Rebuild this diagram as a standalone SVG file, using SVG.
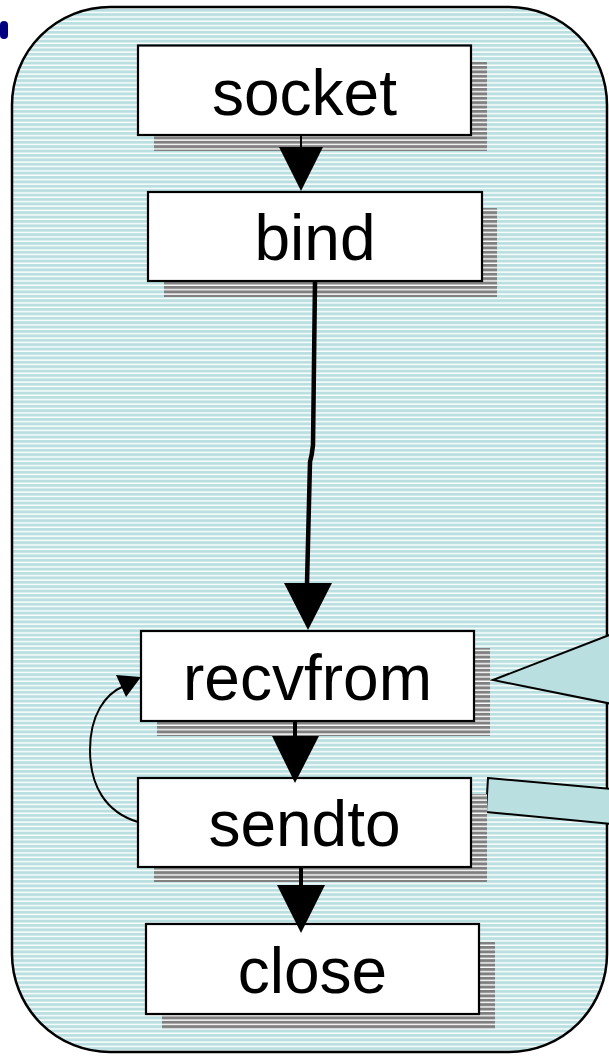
<svg xmlns="http://www.w3.org/2000/svg" width="609" height="1059" viewBox="0 0 609 1059">
<defs>
<pattern id="bg" patternUnits="userSpaceOnUse" x="0" y="0" width="10" height="4.4">
<rect width="10" height="4.4" fill="#b9dfe0"/>
<rect y="3.0" width="10" height="1.4" fill="#ffffff"/>
</pattern>
<pattern id="sh" patternUnits="userSpaceOnUse" x="0" y="0" width="10" height="4.4">
<rect width="10" height="4.4" fill="#808080"/>
<rect y="3.0" width="10" height="1.4" fill="#ffffff"/>
</pattern>
<style>
.box{fill:#ffffff;stroke:#000000;stroke-width:2.2}
.shadow{fill:url(#sh)}
.lbl{font-family:"Liberation Sans",Arial,sans-serif;font-size:64px;fill:#000000;text-anchor:middle}
.callout{fill:#b9dfe0;stroke:#000000;stroke-width:2}
</style>
</defs>
<rect x="0" y="21" width="8" height="18" rx="4" fill="#000080"/>
<rect x="12" y="7" width="595" height="1045" rx="98" ry="98" fill="url(#bg)" stroke="#000000" stroke-width="2.5"/>
<g id="callouts">
<polygon class="callout" points="493,680 612,634 612,704"/>
<polygon class="callout" points="488,778 612,789 612,824 486,812"/>
</g>
<g id="socket">
<rect class="shadow" x="154" y="62" width="333" height="89"/>
<rect class="box" x="138" y="45.5" width="333" height="89.5"/>
<text class="lbl" x="304.5" y="115">socket</text>
</g>
<g id="bind">
<rect class="shadow" x="164" y="208" width="333" height="89"/>
<rect class="box" x="148" y="192" width="334" height="89"/>
<text class="lbl" x="315" y="260">bind</text>
</g>
<g id="recvfrom">
<rect class="shadow" x="157" y="648" width="333" height="88"/>
<rect class="box" x="141" y="631" width="333" height="90"/>
<text class="lbl" x="307.5" y="700">recvfrom</text>
</g>
<g id="sendto">
<rect class="shadow" x="154" y="794" width="333" height="88"/>
<rect class="box" x="138" y="778" width="333" height="89"/>
<text class="lbl" x="304.5" y="846">sendto</text>
</g>
<g id="close">
<rect class="shadow" x="162" y="942" width="333" height="87"/>
<rect class="box" x="146" y="924" width="333" height="90"/>
<text class="lbl" x="312.5" y="993">close</text>
</g>
<g id="connectors" fill="#000000" stroke="#000000">
<line x1="301" y1="135" x2="301" y2="148" stroke-width="2"/>
<polygon points="279,147 323,147 301,191" stroke="none"/>
<path d="M315,281 L313,445 Q312,455 310,462 L307,584" fill="none" stroke-width="4.5"/>
<polygon points="284,583 332,583 308,630" stroke="none"/>
<line x1="295" y1="721" x2="295" y2="737" stroke-width="4"/>
<polygon points="272,736 319,736 295,783" stroke="none"/>
<line x1="301" y1="867" x2="301" y2="886" stroke-width="4"/>
<polygon points="277,885 325,885 301,933" stroke="none"/>
<path d="M138,822 C105,812 90,785 90,750 C90,715 105,694 124,686" fill="none" stroke-width="2"/>
<polygon points="141,677 116,675 126,697" stroke="none"/>
</g>
</svg>
